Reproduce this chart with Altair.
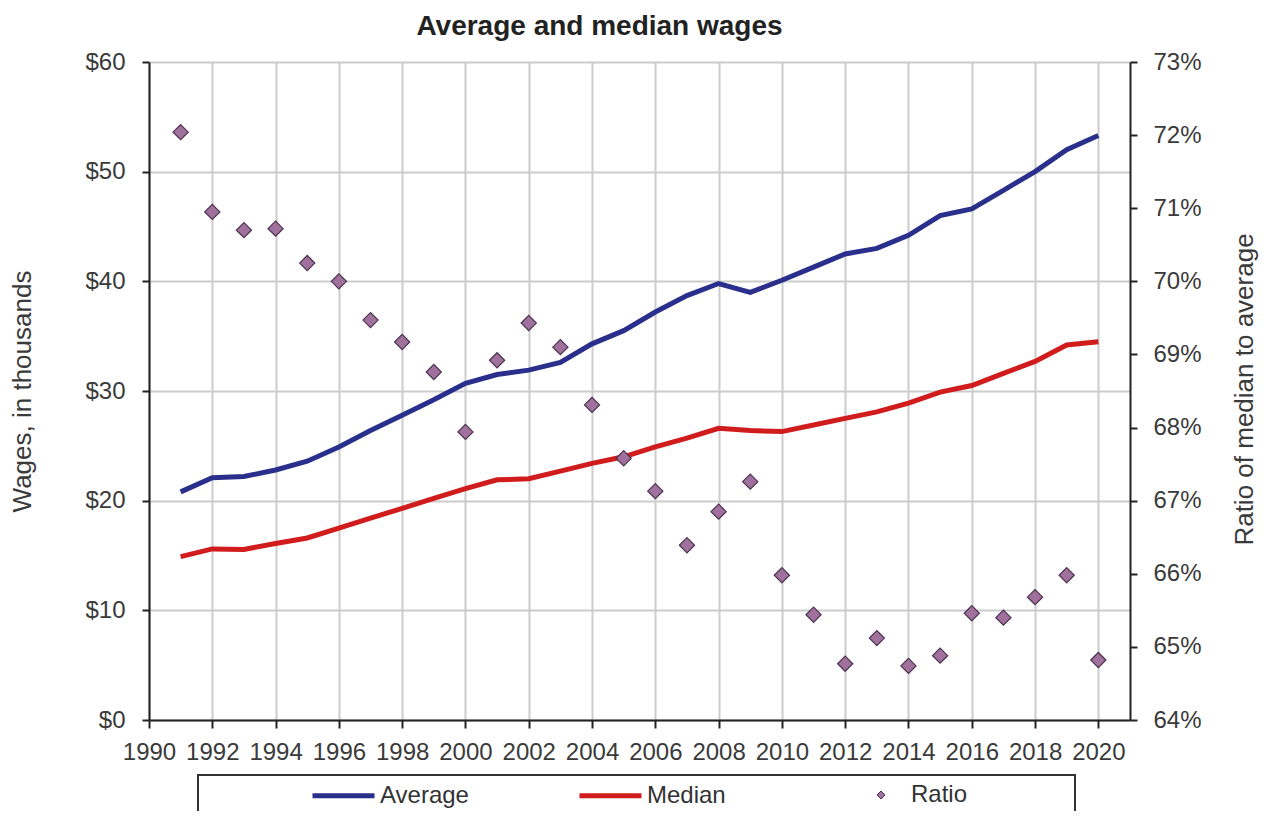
import altair as alt
import pandas as pd

years = list(range(1991, 2021))
average = [20.8, 22.1, 22.2, 22.8, 23.6, 24.9, 26.4, 27.8, 29.2, 30.7,
           31.5, 31.9, 32.6, 34.3, 35.5, 37.2, 38.7, 39.8, 39.0, 40.1,
           41.3, 42.5, 43.0, 44.2, 46.0, 46.6, 48.3, 50.0, 52.0, 53.3]
median = [14.9, 15.6, 15.55, 16.1, 16.6, 17.5, 18.4, 19.3, 20.2, 21.1,
          21.9, 22.0, 22.7, 23.4, 24.0, 24.9, 25.7, 26.6, 26.4, 26.3,
          26.9, 27.5, 28.1, 28.9, 29.9, 30.5, 31.6, 32.7, 34.2, 34.5]
ratio = [72.04, 70.95, 70.70, 70.72, 70.25, 70.0, 69.47, 69.17, 68.76, 67.94,
         68.92, 69.43, 69.10, 68.31, 67.58, 67.13, 66.39, 66.85, 67.26, 65.98,
         65.44, 64.77, 65.12, 64.74, 64.88, 65.46, 65.40, 65.68, 65.98, 64.82]

series_names = ["Average", "Median"]
series_colors = ["#2b2f8c", "#d01c1c"]
x_ticks = list(range(1990, 2021, 2))
wage_ticks = list(range(0, 61, 10))
ratio_ticks = list(range(64, 74))

df = pd.DataFrame({"year": years, "Average": average, "Median": median, "Ratio": ratio})

FONT = "Liberation Sans"

x_enc = alt.X(
    "year:Q",
    scale=alt.Scale(domain=[1990, 2021], nice=False, zero=False),
    axis=alt.Axis(values=x_ticks, format="d", title=None, grid=True,
                  tickSize=8, labelPadding=12, labelFlush=False, labelOverlap=False),
)

frame = alt.Chart(alt.Data(values=[{"k": 1}])).mark_rect(
    fill="white", stroke="#333333", strokeWidth=2
).encode(
    x=alt.value(49), x2=alt.value(926), y=alt.value(713), y2=alt.value(800)
)

lines = alt.Chart(df).transform_fold(
    series_names, as_=["series", "value"]
).mark_line(strokeWidth=5).encode(
    x=x_enc,
    y=alt.Y(
        "value:Q",
        scale=alt.Scale(domain=[0, 60], nice=False, zero=True),
        axis=alt.Axis(orient="left", values=wage_ticks, labelExpr="'$' + datum.value",
                      grid=True, tickSize=7, labelPadding=17,
                      title="Wages, in thousands", titleFontSize=26, titleFontWeight="normal",
                      titleAngle=270, titleX=-127, titleY=329, titleBaseline="middle",
                      titleAlign="center"),
    ),
    color=alt.Color(
        "series:N",
        scale=alt.Scale(domain=series_names, range=series_colors),
        legend=alt.Legend(title=None, orient="none", legendX=161, legendY=700,
                          direction="horizontal", symbolType="stroke", symbolSize=3844,
                          symbolStrokeWidth=5, labelFontSize=24, labelFont=FONT,
                          labelColor="#333333", labelOffset=3, columnPadding=100,
                          padding=0, labelLimit=300),
    ),
)

points = alt.Chart(df).transform_calculate(kind="'Ratio'").mark_point(
    filled=True, color="#a0719d", stroke="#4b3350", strokeWidth=1.2, size=230, opacity=1
).encode(
    x=x_enc,
    y=alt.Y(
        "Ratio:Q",
        scale=alt.Scale(domain=[64, 73], nice=False, zero=False),
        axis=alt.Axis(orient="right", values=ratio_ticks, labelExpr="datum.value + '%'",
                      grid=False, tickSize=7, labelPadding=16,
                      title="Ratio of median to average", titleFontSize=26,
                      titleFontWeight="normal", titleAngle=270, titleX=114, titleY=327,
                      titleBaseline="middle", titleAlign="center"),
    ),
    shape=alt.Shape(
        "kind:N",
        scale=alt.Scale(domain=["Ratio"], range=["diamond"]),
        legend=alt.Legend(title=None, orient="none", legendX=720, legendY=721,
                          symbolSize=64, symbolStrokeWidth=1, labelFontSize=24,
                          labelFont=FONT, labelColor="#333333", labelOffset=18, padding=0),
    ),
)

chart = alt.layer(frame, lines, points).resolve_scale(
    y="independent"
).properties(
    width=981,
    height=658,
    title=alt.TitleParams("Average and median wages", fontSize=28, font=FONT,
                          fontWeight="bold", color="#222222", anchor="middle",
                          frame="group", dx=-40, offset=9),
    autosize=alt.AutoSizeParams(type="none"),
    padding={"left": 141, "top": 54, "right": 131, "bottom": 91},
).configure_axis(
    labelFont=FONT, labelFontSize=24, labelColor="#3a3a3a",
    titleFont=FONT, titleColor="#3a3a3a",
    domainColor="#222222", domainWidth=2, tickColor="#222222", tickWidth=2,
    gridColor="#cccccc", gridWidth=2,
).configure_view(stroke=None)

chart.save("out.html", embed_options={"renderer": "svg", "actions": False})
